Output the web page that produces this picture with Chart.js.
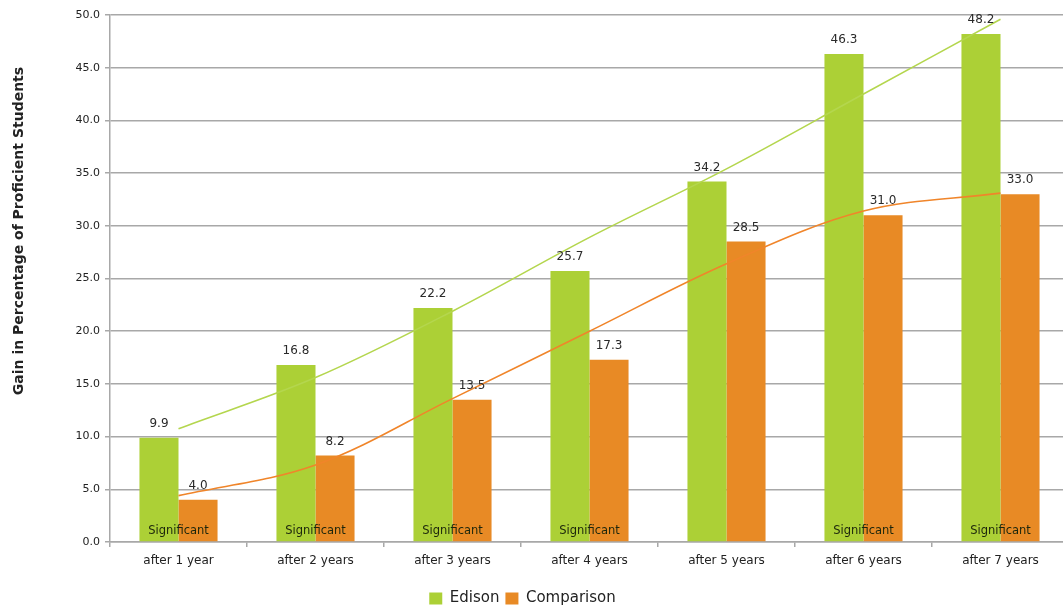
<!DOCTYPE html>
<html>
<head>
<meta charset="utf-8">
<script src="https://cdn.jsdelivr.net/npm/chart.js@4"></script>
<style>
  html, body { margin: 0; padding: 0; background: #fff; overflow: hidden; }
  #wrap { width: 1070px; height: 616px; }
</style>
</head>
<body>
<div id="wrap"><canvas id="c" width="1070" height="616"></canvas></div>
<script>
const categories = ['after 1 year', 'after 2 years', 'after 3 years', 'after 4 years', 'after 5 years', 'after 6 years', 'after 7 years'];
const edison = [9.9, 16.8, 22.2, 25.7, 34.2, 46.3, 48.2];
const comparison = [4.0, 8.2, 13.5, 17.3, 28.5, 31.0, 33.0];
const edisonTrend = [10.75, 15.6, 21.9, 28.9, 35.4, 42.5, 49.6];
const comparisonTrend = [4.4, 7.3, 13.6, 20.0, 26.4, 31.4, 33.1];
const significant = [true, true, true, true, false, true, true];
const yTitle = 'Gain in Percentage of Proficient Students';

const FONT = "'DejaVu Sans', sans-serif";
Chart.defaults.font.family = FONT;
Chart.defaults.color = '#333';

const labelsPlugin = {
  id: 'labelsPlugin',
  afterLayout(chart) {
    chart.legend.left -= 12;
    chart.legend.right -= 12;
  },
  afterDatasetsDraw(chart) {
    const ctx = chart.ctx;
    ctx.save();
    ctx.textAlign = 'center';
    ctx.textBaseline = 'middle';
    ctx.fillStyle = '#2a2a2a';
    ctx.font = "12px " + FONT;
    [0, 1].forEach(di => {
      const meta = chart.getDatasetMeta(di);
      meta.data.forEach((el, i) => {
        const v = chart.data.datasets[di].data[i];
        ctx.fillText(v.toFixed(1), el.x, el.y - 14);
      });
    });
    const xs = chart.scales.x, ys = chart.scales.y;
    ctx.font = "11.5px " + FONT;
    ctx.fillStyle = '#1c260c';
    significant.forEach((s, i) => {
      if (s) ctx.fillText('Significant', xs.getPixelForValue(i), ys.getPixelForValue(1.05));
    });
    ctx.restore();
  },
  afterDraw(chart) {
    const ctx = chart.ctx;
    ctx.save();
    ctx.translate(19, 231);
    ctx.rotate(-Math.PI / 2);
    ctx.textAlign = 'center';
    ctx.textBaseline = 'middle';
    ctx.font = "bold 14px " + FONT;
    ctx.fillStyle = '#222';
    ctx.fillText(yTitle, 0, 0);
    ctx.restore();
  }
};

new Chart(document.getElementById('c'), {
  type: 'bar',
  data: {
    labels: categories,
    datasets: [
      { label: 'Edison', data: edison, backgroundColor: '#acd036', borderWidth: 0, order: 2,
        categoryPercentage: 0.57, barPercentage: 1.0 },
      { label: 'Comparison', data: comparison, backgroundColor: '#e88a25', borderWidth: 0, order: 2,
        categoryPercentage: 0.57, barPercentage: 1.0 },
      { type: 'line', label: 'Edison trend', data: edisonTrend, borderColor: '#b4d64e', borderWidth: 1.6,
        pointRadius: 0, fill: false, tension: 0.35, order: 1 },
      { type: 'line', label: 'Comparison trend', data: comparisonTrend, borderColor: '#f0852a', borderWidth: 1.6,
        pointRadius: 0, fill: false, tension: 0.35, order: 1 }
    ]
  },
  options: {
    responsive: false,
    animation: false,
    layout: { padding: { top: 15, right: 1, left: 0, bottom: 0 } },
    plugins: {
      tooltip: { enabled: false },
      legend: {
        position: 'bottom',
        labels: {
          filter: (item) => item.datasetIndex < 2,
          boxWidth: 13, boxHeight: 12,
          padding: 6,
          color: '#222',
          font: { size: 15, family: FONT }
        }
      }
    },
    scales: {
      x: {
        grid: { drawOnChartArea: false, color: '#a8a8a8', lineWidth: 1.5, tickLength: 5 },
        border: { color: '#a8a8a8', width: 1.5 },
        ticks: { padding: 7, color: '#222', font: { size: 12 } },
        afterFit(scale) { scale.height = 43; }
      },
      y: {
        min: 0, max: 50,
        ticks: { stepSize: 5, padding: 5, color: '#222', font: { size: 11 },
          callback: (v) => Number(v).toFixed(1) },
        grid: { color: '#a8a8a8', lineWidth: 1.5, tickLength: 5 },
        border: { color: '#a8a8a8', width: 1.5 },
        afterFit(scale) { scale.width = 110; }
      }
    }
  },
  plugins: [labelsPlugin]
});
</script>
</body>
</html>
